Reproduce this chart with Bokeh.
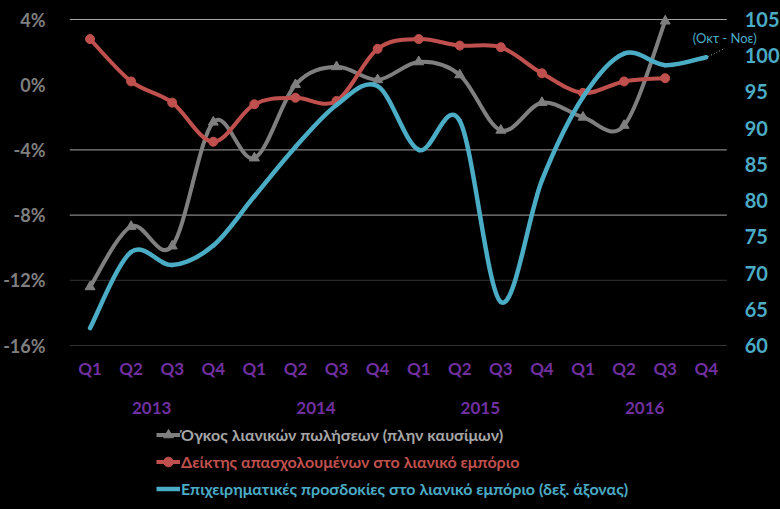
import numpy as np
from bokeh.plotting import figure
from bokeh.models import Range1d, FixedTicker, Legend, LegendItem, Label
from bokeh.embed import file_html
from bokeh.resources import INLINE
from bokeh.core.properties import value

# ---------------- data ----------------
quarters = ["Q1", "Q2", "Q3", "Q4"] * 4
years = ["2013", "2014", "2015", "2016"]
volume = [-12.4, -8.7, -9.9, -2.3, -4.5, 0.0, 1.1, 0.3, 1.4, 0.6, -2.8, -1.1, -2.0, -2.5, 3.9, None]
employment = [2.8, 0.2, -1.1, -3.5, -1.2, -0.8, -1.0, 2.2, 2.8, 2.4, 2.3, 0.7, -0.5, 0.2, 0.4, None]
expectations = [62.4, 72.9, 71.1, 73.8, 80.6, 87.4, 93.2, 95.8, 87.0, 91.0, 66.0, 82.8, 94.3, 100.3, 98.7, 99.8]
left_ticks = [-16, -12, -8, -4, 0, 4]
right_ticks = [60, 65, 70, 75, 80, 85, 90, 95, 100, 105]
series_names = [
    "Όγκος λιανικών πωλήσεων (πλην καυσίμων)",
    "Δείκτης απασχολουμένων στο λιανικό εμπόριο",
    "Επιχειρηματικές προσδοκίες στο λιανικό εμπόριο (δεξ. άξονας)",
]
note_text = "(Οκτ - Νοε)"

GREY = "#7f7f7f"
RED = "#c0504d"
BLUE = "#4bacc6"
PURPLE = "#7030a0"
FONT = "Lato"

x = list(range(len(quarters)))
n = len(quarters)

# ---------------- layout (pixels) ----------------
W, H = 780, 509
LEFT, TOP = 65, 19                 # position of the value area inside the canvas
PLOT_W, PLOT_H = 661, 326          # category area / value area
unit_x = PLOT_W / n
lmin, lmax = left_ticks[0], left_ticks[-1]
rmin, rmax = right_ticks[0], right_ticks[-1]
unit_l = PLOT_H / (lmax - lmin)
unit_r = PLOT_H / (rmax - rmin)
x_end = -0.5 + (W - LEFT) / unit_x
l_top = lmax + TOP / unit_l
l_bot = lmax - (H - TOP) / unit_l
r_top = rmax + TOP / unit_r
r_bot = rmax - (H - TOP) / unit_r


def y_at(px):  # left-axis value at a screen row
    return lmax - (px - TOP) / unit_l


p = figure(width=W, height=H, output_backend="svg", toolbar_location=None,
           x_range=Range1d(-0.5, x_end), y_range=Range1d(l_bot, l_top),
           x_axis_location=None,
           min_border_left=LEFT, min_border_right=0, min_border_top=0, min_border_bottom=0,
           background_fill_color="black", border_fill_color="black")
p.outline_line_color = None
p.xgrid.visible = False
p.ygrid.visible = False
p.extra_y_ranges = {"right": Range1d(r_bot, r_top)}

# gridlines (only across the category area)
grid_ticks = [t for t in left_ticks if t != 0]
grid_cols = ["#a6a6a6" if t > -10 else "#333333" for t in grid_ticks]
p.segment(x0=[-0.5] * len(grid_ticks), x1=[n - 0.5] * len(grid_ticks), y0=grid_ticks, y1=grid_ticks,
          line_color=grid_cols, line_width=1)

# left axis
la = p.yaxis[0]
la.ticker = FixedTicker(ticks=left_ticks)
la.bounds = (lmin, lmax)
la.major_label_overrides = {t: f"{t}%" for t in left_ticks}
la.axis_line_color = None
la.major_tick_line_color = None
la.minor_tick_line_color = None
la.major_label_text_color = GREY
la.major_label_text_font = FONT
la.major_label_text_font_style = "bold"
la.major_label_text_font_size = "18px"
la.major_label_standoff = 18

# right axis labels
p.text(x=[n - 0.5 + 18 / unit_x] * len(right_ticks), y=right_ticks, text=[str(t) for t in right_ticks],
       y_range_name="right", text_color=BLUE, text_font=value(FONT), text_font_style="bold",
       text_font_size="20px", text_align="left", text_baseline="middle")

# quarter labels
p.text(x=x, y=[y_at(368)] * n, text=quarters, text_color=PURPLE, text_font=value(FONT),
       text_font_style="bold", text_font_size="17px", text_align="center", text_baseline="middle")
# year labels
year_x = [1.5 + 4 * i for i in range(len(years))]
p.text(x=year_x, y=[y_at(407)] * len(years), text=years, text_color=PURPLE, text_font=value(FONT),
       text_font_style="bold", text_font_size="17px", text_align="center", text_baseline="middle")


def smooth(xs, ys):
    pts = [(a, b) for a, b in zip(xs, ys) if b is not None]
    m = len(pts)
    P = np.array(pts, dtype=float)
    out = {k: [] for k in ["x0", "y0", "x1", "y1", "cx0", "cy0", "cx1", "cy1"]}
    for i in range(m - 1):
        p0 = P[max(i - 1, 0)]
        p1 = P[i]
        p2 = P[i + 1]
        p3 = P[min(i + 2, m - 1)]
        c1 = p1 + (p2 - p0) / 6.0
        c2 = p2 - (p3 - p1) / 6.0
        out["x0"].append(p1[0]); out["y0"].append(p1[1])
        out["x1"].append(p2[0]); out["y1"].append(p2[1])
        out["cx0"].append(c1[0]); out["cy0"].append(c1[1])
        out["cx1"].append(c2[0]); out["cy1"].append(c2[1])
    return out


def clean(xs, ys):
    xx = [a for a, b in zip(xs, ys) if b is not None]
    yy = [b for b in ys if b is not None]
    return xx, yy


nan = float("nan")

# grey: volume
b = smooth(x, volume)
p.bezier(line_color=GREY, line_width=4, line_cap="round", **b)
vx, vy = clean(x, volume)
p.scatter(vx, vy, marker="triangle", size=10, color=GREY)
l1 = p.line([nan], [nan], line_color=GREY, line_width=4)
m1 = p.scatter([nan], [nan], marker="triangle", size=9, color=GREY)

# red: employment
b = smooth(x, employment)
p.bezier(line_color=RED, line_width=4, line_cap="round", **b)
ex, ey = clean(x, employment)
p.scatter(ex, ey, marker="circle", size=9, color=RED)
l2 = p.line([nan], [nan], line_color=RED, line_width=4)
m2 = p.scatter([nan], [nan], marker="circle", size=8, color=RED)

# blue: expectations (right axis)
b = smooth(x, expectations)
p.bezier(line_color=BLUE, line_width=4.5, line_cap="round", y_range_name="right", **b)
l3 = p.line([nan], [nan], line_color=BLUE, line_width=4.5)

# annotation leader + text
p.segment(x0=[x[-1] + 0.05], y0=[expectations[-1] + 0.1], x1=[x[-1] + 0.45], y1=[expectations[-1] + 1.2],
          line_color="#a6a6a6", line_width=1, line_dash="1 2", y_range_name="right")
p.add_layout(Label(x=x[-1] + 0.45, y=expectations[-1] + 2.6, y_range_name="right", text=note_text,
                   text_color=BLUE, text_font=FONT, text_font_size="13px",
                   text_align="center", text_baseline="middle"))

# legends (one per series, so each text keeps its series colour)
legend_specs = [([l1, m1], series_names[0], "#a6a6a6", 434),
                ([l2, m2], series_names[1], RED, 461),
                ([l3], series_names[2], BLUE, 488)]
for rends, name, col, cy in legend_specs:
    leg = Legend(items=[LegendItem(label=name, renderers=rends)],
                 location=(152 - LEFT, H - cy - 13.5),
                 background_fill_alpha=0, border_line_color=None, padding=0, margin=0,
                 glyph_width=24, glyph_height=27, label_standoff=1, label_height=27,
                 label_text_color=col, label_text_font=FONT, label_text_font_size="16px",
                 label_text_font_style="bold")
    p.add_layout(leg, "center")

html = file_html(p, INLINE)
html = html.replace("<body>", '<body style="background-color:#000000;">', 1)
html = html.replace("</head>", "<style>html, body { background-color: #000000; }</style></head>", 1)
open("out.html", "w").write(html)
